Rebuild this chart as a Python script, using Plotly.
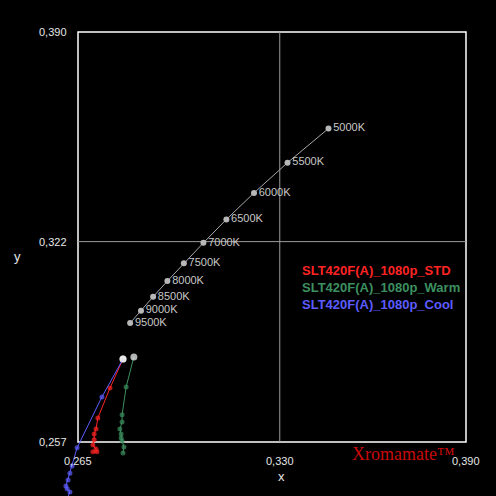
import plotly.graph_objects as go

# CCT reference (daylight locus)
cct_labels = ["5000K", "5500K", "6000K", "6500K", "7000K", "7500K", "8000K", "8500K", "9000K", "9500K"]
cct_x = [0.3457, 0.3325, 0.3217, 0.3128, 0.3054, 0.2991, 0.2938, 0.2892, 0.2853, 0.2818]
cct_y = [0.3587, 0.3476, 0.3378, 0.3292, 0.3216, 0.3150, 0.3092, 0.3041, 0.2996, 0.2956]

# Grayscale tracking series
std_x = [0.2795, 0.2753, 0.2714, 0.2708, 0.2702, 0.2702, 0.2698, 0.2708, 0.2711, 0.2698]
std_y = [0.2839, 0.2745, 0.2648, 0.2612, 0.2596, 0.2577, 0.2560, 0.2547, 0.2538, 0.2538]

warm_x = [0.2830, 0.2805, 0.2792, 0.2792, 0.2785, 0.2789, 0.2789, 0.2792, 0.2798, 0.2795]
warm_y = [0.2846, 0.2748, 0.2658, 0.2635, 0.2612, 0.2596, 0.2583, 0.2573, 0.2554, 0.2534]

cool_x = [0.2795, 0.2727, 0.2647, 0.2631, 0.2624, 0.2618, 0.2611, 0.2615, 0.2624, 0.2618]
cool_y = [0.2839, 0.2716, 0.2551, 0.2492, 0.2469, 0.2447, 0.2427, 0.2418, 0.2408, 0.2392]

series_names = ["SLT420F(A)_1080p_STD", "SLT420F(A)_1080p_Warm", "SLT420F(A)_1080p_Cool"]
series_colors = ["#ff2424", "#3c9060", "#5c5cff"]

x_ticks = [0.265, 0.330, 0.390]
x_tick_text = ["0,265", "0,330", "0,390"]
y_ticks = [0.257, 0.322, 0.390]
y_tick_text = ["0,257", "0,322", "0,390"]

X0, X1 = 0.265, 0.390
Y0, Y1 = 0.257, 0.390

fig = go.Figure()

# frame and grid
fig.add_shape(type="rect", x0=X0, x1=X1, y0=Y0, y1=Y1, line=dict(color="#ffffff", width=1.5), layer="below")
fig.add_shape(type="line", x0=0.330, x1=0.330, y0=Y0, y1=Y1, line=dict(color="#9a9a9a", width=1), layer="below")
fig.add_shape(type="line", x0=X0, x1=X1, y0=0.322, y1=0.322, line=dict(color="#9a9a9a", width=1), layer="below")

fig.add_trace(go.Scatter(
    x=cct_x, y=cct_y, mode="lines+markers+text", text=cct_labels,
    textposition="middle right", textfont=dict(family="Liberation Sans", size=11, color="#c8c8c8"),
    line=dict(color="#a8a8a8", width=1), marker=dict(color="#b8b8b8", size=6),
    cliponaxis=False, showlegend=False))

for sx, sy, col in [(warm_x, warm_y, series_colors[1]), (std_x, std_y, series_colors[0]), (cool_x, cool_y, series_colors[2])]:
    n = len(sx)
    fig.add_trace(go.Scatter(
        x=sx, y=sy, mode="lines+markers",
        line=dict(color=col, width=1),
        marker=dict(color=["#ffffff"] + [col] * (n - 1), size=[7] + [5] * (n - 1), line=dict(width=0)),
        cliponaxis=False, showlegend=False))

ann = []
for v, t in zip(x_ticks, x_tick_text):
    ann.append(dict(x=v, y=Y0, xref="x", yref="y", text=t, showarrow=False, yshift=-19,
                    font=dict(family="Liberation Sans", size=11, color="#e6e6e6")))
for v, t in zip(y_ticks, y_tick_text):
    ann.append(dict(x=X0, y=v, xref="x", yref="y", text=t, showarrow=False, xanchor="right", xshift=-9,
                    font=dict(family="Liberation Sans", size=11, color="#e6e6e6")))
ann.append(dict(x=0.3305, y=Y0, xref="x", yref="y", text="x", showarrow=False, yshift=-35,
                font=dict(family="Liberation Sans", size=13, color="#e6e6e6")))
ann.append(dict(x=X0, y=0.3171, xref="x", yref="y", text="y", showarrow=False, xshift=-61,
                font=dict(family="Liberation Sans", size=13, color="#e6e6e6")))
for i, (nm, col) in enumerate(zip(series_names, series_colors)):
    ann.append(dict(x=0.3365, y=0.3125, xref="x", yref="y", text="<b>" + nm + "</b>", showarrow=False,
                    xanchor="left", yshift=-17 * i,
                    font=dict(family="Liberation Sans", size=13, color=col)))
ann.append(dict(x=0.3526, y=Y0, xref="x", yref="y",
                text="Xromamate™", showarrow=False, xanchor="left",
                yshift=-12, font=dict(family="Liberation Serif", size=18, color="#c80a0a")))

fig.update_layout(
    width=496, height=496, margin=dict(l=0, r=0, t=0, b=0),
    paper_bgcolor="#000000", plot_bgcolor="#000000",
    xaxis=dict(range=[0.239871, 0.399665], visible=False, fixedrange=True),
    yaxis=dict(range=[0.23948, 0.40038], visible=False, fixedrange=True),
    annotations=ann, showlegend=False)

fig.write_html("out.html", config={"displayModeBar": False},
               post_script="document.body.style.margin='0';document.body.style.background='#000';")
